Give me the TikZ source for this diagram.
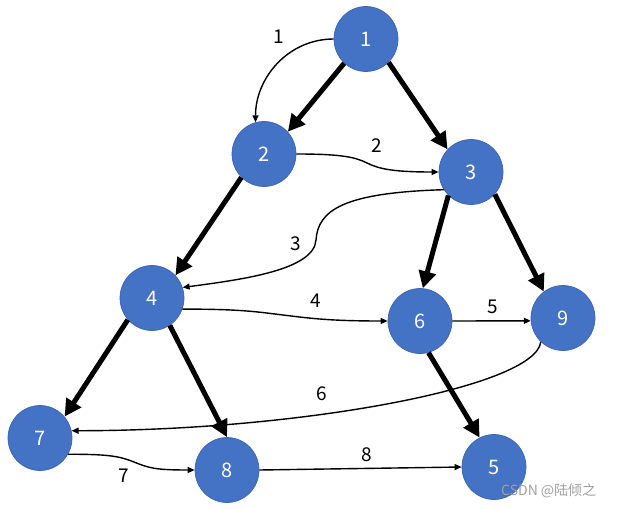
\documentclass[tikz,border=0pt]{standalone}
\usepackage{fontspec}
\setmainfont{Noto Sans}
\newfontfamily\cjk{Noto Sans CJK SC}
\usetikzlibrary{shapes.geometric,arrows.meta}
\definecolor{nodeblue}{HTML}{4472C4}
\definecolor{nodeedge}{HTML}{3B64AD}
\definecolor{wmgray}{HTML}{A0A0A0}
\tikzset{
  vert/.style={ellipse,minimum width=64pt,minimum height=65pt,inner sep=0pt,
    fill=nodeblue,draw=nodeedge,line width=0.7pt,text=white,font=\cjk\fontsize{20}{24}\selectfont},
  treeedge/.style={line width=5pt,-{Triangle[length=17pt,width=17pt]}},
  backedge/.style={line width=1.4pt,-{Triangle[length=7pt,width=6pt]}},
  elabel/.style={font=\cjk\fontsize{19}{22}\selectfont,text=black,inner sep=1pt}
}
\begin{document}
\begin{tikzpicture}[x=1pt,y=-1pt]
\useasboundingbox (0,0) rectangle (617,508);
\fill[white] (0,0) rectangle (617,508);
% vertices
\node[vert] (n1) at (366,39) {1};
\node[vert] (n2) at (264,154) {2};
\node[vert] (n3) at (471,172) {3};
\node[vert] (n4) at (152,298) {4};
\node[vert] (n6) at (420,321) {6};
\node[vert] (n9) at (563,318) {9};
\node[vert] (n7) at (40,438) {7};
\node[vert] (n8) at (227,470) {8};
\node[vert] (n5) at (494,467) {5};
% tree edges
\draw[treeedge] (n1.228) -- (n2.43);
\draw[treeedge] (n1.314) -- (n3.136);
\draw[treeedge] (n2.226) -- (n4.44);
\draw[treeedge] (n3.226) -- (n6.85);
\draw[treeedge] (n3.317) -- (n9.126);
\draw[treeedge] (n4.222) -- (n7.41);
\draw[treeedge] (n4.303) -- (n8.90);
\draw[treeedge] (n6.285) -- (n5.116);
% other edges
\draw[backedge] (n1.180) .. controls +(-45,0) and +(0,-45) .. (n2.105);
\draw[backedge] (n2.0) .. controls +(45,0) and +(-12,-6) .. (367,163) .. controls +(12,6) and +(-45,0) .. (n3.180);
\draw[backedge] (n3.213) .. controls +(-100,3) and +(2,-30) .. (316,240) .. controls +(-2,30) and +(60,-8) .. (n4.19);
\draw[backedge] (n4.340) .. controls +(60,0) and +(-25,-3) .. (283,315) .. controls +(25,3) and +(-60,0) .. (n6.180);
\draw[backedge] (n6.0) -- (n9.185);
\draw[backedge] (n9.227) .. controls +(-5,45) and +(230,0) .. (n7.13);
\draw[backedge] (n7.330) .. controls +(40,0) and +(-15,-6) .. (134,462) .. controls +(15,6) and +(-40,0) .. (n8.180);
\draw[backedge] (n8.0) -- (n5.180);
% labels
\node[elabel] (l1) at (279,37) {1};
\node[elabel] (l2) at (377,146) {2};
\node[elabel] (l3) at (296,244) {3};
\node[elabel] (l4) at (316,301) {4};
\node[elabel] (l5) at (493,307) {5};
\node[elabel] (l6) at (322,394) {6};
\node[elabel] (l7) at (124,476) {7};
\node[elabel] (l8) at (367,455) {8};
% watermark
\node[font=\cjk\fontsize{14}{16}\selectfont,text=wmgray,inner sep=0pt,anchor=west] (wm) at (501,491) {CSDN @陆倾之};
\end{tikzpicture}
\end{document}
